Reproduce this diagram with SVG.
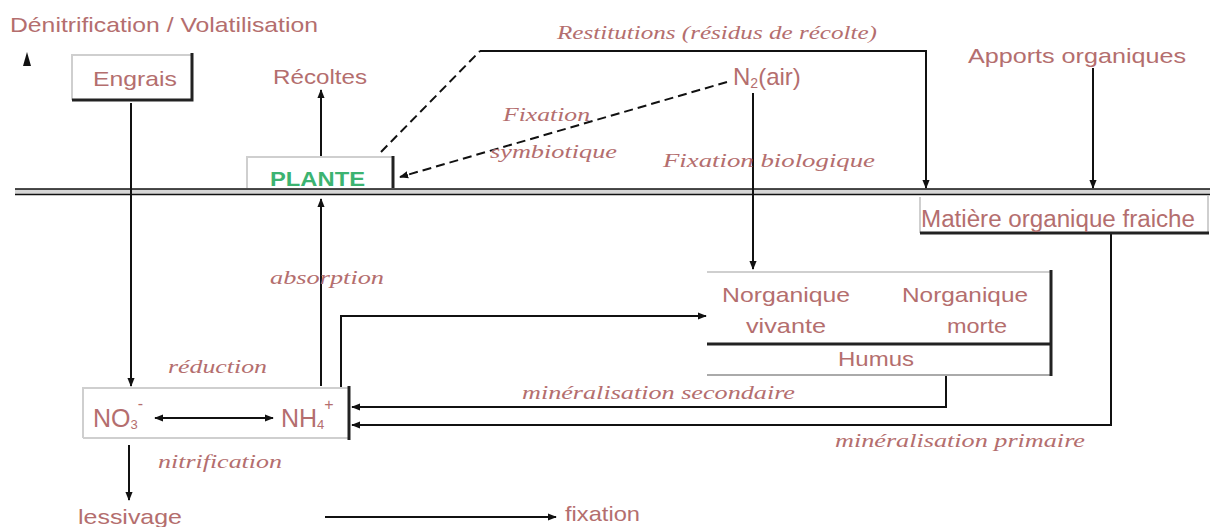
<svg xmlns="http://www.w3.org/2000/svg" width="1210" height="527" viewBox="0 0 1210 527">
<style>
.t{font-family:"Liberation Sans",Arial,sans-serif;fill:#b46e6e;font-size:21px}
.i{font-family:"Liberation Serif","Times New Roman",serif;font-style:italic;fill:#b46e6e;font-size:18px}
.ln{stroke:#111;stroke-width:2;fill:none}
.ds{stroke:#111;stroke-width:2;fill:none;stroke-dasharray:9,5}
.lt{stroke:#cfcfcf;stroke-width:2;fill:none}
.dk{stroke:#222;stroke-width:3;fill:none}
</style>
<defs>
<marker id="a" viewBox="0 0 10 10" refX="9" refY="5" markerWidth="9" markerHeight="9" markerUnits="userSpaceOnUse" orient="auto">
<path d="M0,1 L10,5 L0,9 z" fill="#111"/>
</marker>
</defs>
<rect width="1210" height="527" fill="#fff"/>

<g id="soil-line">
<rect x="15" y="189" width="1195" height="5" fill="#d6d6d6"/>
<line x1="15" y1="189" x2="1210" y2="189" stroke="#111" stroke-width="1.5"/>
<line x1="15" y1="194.5" x2="1210" y2="194.5" stroke="#111" stroke-width="1.5"/>
</g>

<g id="connectors">
<line class="ln" x1="131" y1="103" x2="131" y2="386" marker-end="url(#a)"/>
<line class="ln" x1="321" y1="156" x2="321" y2="90" marker-end="url(#a)"/>
<line class="ln" x1="321" y1="386" x2="321" y2="199" marker-end="url(#a)"/>
<path class="ds" d="M381,152 L480,51"/>
<path class="ln" d="M480,51 L926,51 L926,188" marker-end="url(#a)"/>
<path class="ds" d="M727,82 L400,177" marker-end="url(#a)"/>
<line class="ln" x1="753" y1="93" x2="753" y2="269" marker-end="url(#a)"/>
<line class="ln" x1="1093" y1="68" x2="1093" y2="188" marker-end="url(#a)"/>
<path class="ln" d="M341,387 L341,316 L706,316" marker-end="url(#a)"/>
<path class="ln" d="M946,376 L946,407 L352,407" marker-end="url(#a)"/>
<path class="ln" d="M1111,234 L1111,425 L352,425" marker-end="url(#a)"/>
<line class="ln" x1="158" y1="418" x2="155" y2="418" marker-end="url(#a)"/>
<line class="ln" x1="155" y1="418" x2="273" y2="418" marker-end="url(#a)"/>
<line class="ln" x1="129" y1="445" x2="129" y2="500" marker-end="url(#a)"/>
<line class="ln" x1="325" y1="517" x2="556" y2="517" marker-end="url(#a)"/>
<path d="M27,52 L31,66 L23,66 z" fill="#111"/>
</g>

<g id="title"><text class="t" x="10" y="32" textLength="308" lengthAdjust="spacingAndGlyphs">Dénitrification / Volatilisation</text></g>

<g id="engrais">
<path class="lt" d="M72,100 L72,55 L193,55"/>
<path class="dk" d="M192,53 L192,100 L72,100"/>
<text class="t" x="93" y="86" textLength="84" lengthAdjust="spacingAndGlyphs">Engrais</text>
</g>

<g id="recoltes"><text class="t" x="273" y="84" textLength="94" lengthAdjust="spacingAndGlyphs">Récoltes</text></g>

<g id="plante">
<path class="lt" d="M247,188 L247,157 L393,157"/>
<path class="dk" d="M393,156 L393,188"/>
<text x="270" y="186" font-family="Liberation Sans,Arial,sans-serif" font-weight="bold" font-size="21" fill="#3cb371" textLength="95" lengthAdjust="spacingAndGlyphs">PLANTE</text>
</g>

<g id="n2"><text class="t" x="733" y="85" style="font-size:24px">N<tspan style="font-size:14px" dy="3">2</tspan><tspan dy="-3">(air)</tspan></text></g>

<g id="apports"><text class="t" x="968" y="63" textLength="218" lengthAdjust="spacingAndGlyphs">Apports organiques</text></g>

<g id="mo-fraiche">
<path class="lt" d="M920,197 L920,233 M1208,196 L1208,233"/>
<path class="dk" d="M920,233 L1209,233"/>
<text class="t" x="921" y="227" style="font-size:23px" textLength="274" lengthAdjust="spacingAndGlyphs">Matière organique fraiche</text>
</g>

<g id="n-organique">
<path class="lt" d="M707,272 L1051,272"/>
<path stroke="#aaa" stroke-width="2" d="M707,375 L1051,375"/>
<path class="dk" d="M707,344 L1051,344 M1051,270 L1051,376"/>
<text class="t" x="722" y="302" textLength="128" lengthAdjust="spacingAndGlyphs">Norganique</text>
<text class="t" x="746" y="333" textLength="80" lengthAdjust="spacingAndGlyphs">vivante</text>
<text class="t" x="902" y="302" textLength="126" lengthAdjust="spacingAndGlyphs">Norganique</text>
<text class="t" x="947" y="333" textLength="60" lengthAdjust="spacingAndGlyphs">morte</text>
<text class="t" x="838" y="366" textLength="76" lengthAdjust="spacingAndGlyphs">Humus</text>
</g>

<g id="no3-nh4">
<path class="lt" d="M83,438 L83,388 L349,388 M83,438 L349,438"/>
<path class="dk" d="M349,386 L349,440"/>
<text class="t" x="93" y="427" style="font-size:25px">NO<tspan style="font-size:13px" dy="2">3</tspan><tspan style="font-size:16px" dy="-20">-</tspan></text>
<text class="t" x="281" y="427" style="font-size:25px">NH<tspan style="font-size:13px" dy="2">4</tspan><tspan style="font-size:16px" dy="-19">+</tspan></text>
</g>

<g id="labels">
<text class="i" x="557" y="39" textLength="320" lengthAdjust="spacingAndGlyphs">Restitutions (résidus de récolte)</text>
<text class="i" x="503" y="121" textLength="87" lengthAdjust="spacingAndGlyphs">Fixation</text>
<text class="i" x="490" y="158" textLength="127" lengthAdjust="spacingAndGlyphs">symbiotique</text>
<text class="i" x="663" y="167" textLength="212" lengthAdjust="spacingAndGlyphs">Fixation biologique</text>
<text class="i" x="270" y="284" textLength="114" lengthAdjust="spacingAndGlyphs">absorption</text>
<text class="i" x="168" y="373" textLength="99" lengthAdjust="spacingAndGlyphs">réduction</text>
<text class="i" x="158" y="468" textLength="124" lengthAdjust="spacingAndGlyphs">nitrification</text>
<text class="i" x="522" y="399" textLength="273" lengthAdjust="spacingAndGlyphs">minéralisation secondaire</text>
<text class="i" x="835" y="447" textLength="250" lengthAdjust="spacingAndGlyphs">minéralisation primaire</text>
<text class="t" x="78" y="524" textLength="104" lengthAdjust="spacingAndGlyphs">lessivage</text>
<text class="t" x="565" y="521" textLength="75" lengthAdjust="spacingAndGlyphs">fixation</text>
</g>
</svg>
